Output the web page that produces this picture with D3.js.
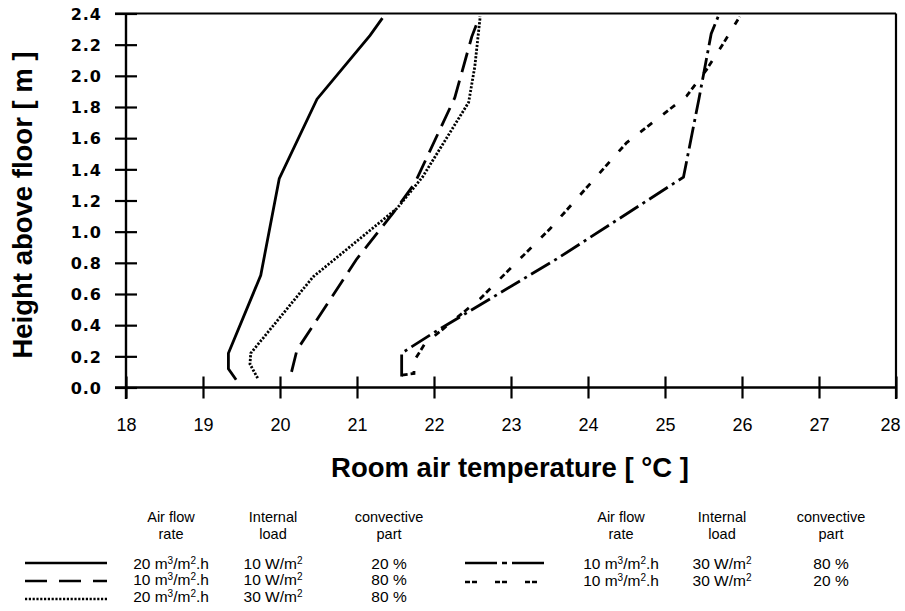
<!DOCTYPE html>
<html><head><meta charset="utf-8">
<script src="https://cdn.jsdelivr.net/npm/d3@7"></script>
<style>body{margin:0;background:#fff}svg{display:block}</style>
</head><body>
<svg id="c" width="905" height="611"></svg>
<script>
// ---------- data ----------
const xTicks = [18,19,20,21,22,23,24,25,26,27,28];
const yTicks = [0,0.2,0.4,0.6,0.8,1.0,1.2,1.4,1.6,1.8,2.0,2.2,2.4];

const s1T = [19.43,19.33,19.33,19.75,19.99,20.48,21.17,21.33];
const s1H = [0.05,0.12,0.22,0.72,1.34,1.85,2.26,2.37];

const s2T = [20.15,20.22,20.99,21.47,21.75,22.27,22.49,22.59];
const s2H = [0.10,0.24,0.82,1.12,1.31,1.86,2.25,2.38];

const s3T = [19.71,19.61,19.62,20.43,21.52,21.85,22.45,22.53,22.60];
const s3H = [0.06,0.15,0.22,0.71,1.15,1.35,1.83,2.06,2.38];

const s4T = [21.58,21.58,21.99,23.61,25.24,25.44,25.60,25.69];
const s4H = [0.07,0.22,0.35,0.83,1.35,1.85,2.27,2.38];

const s5T = [21.58,21.74,21.74,21.88,22.60,23.51,24.50,25.28,25.54,25.76,25.97];
const s5H = [0.08,0.09,0.17,0.28,0.57,1.02,1.57,1.87,2.04,2.21,2.38];

const airFlow = ["20","10","20","10","10"];
const intLoad = ["10","10","30","30","30"];
const convPart = ["20 %","80 %","80 %","80 %","20 %"];
const dashes = [null,"20,9","2.2,1.6","22,5,3,5","6,3,6,14"];
const legendDashes = [null,"22,12","2.2,1.6","32,5,5,5","5,2,5,18"];

const series = [[s1T,s1H],[s2T,s2H],[s3T,s3H],[s4T,s4H],[s5T,s5H]];

// ---------- chart ----------
const svg = d3.select("#c");
const x = d3.scaleLinear().domain([18,28]).range([126,896]);
const y = d3.scaleLinear().domain([0,2.4]).range([387.5,13.5]);

// frame: top and right borders
svg.append("line").attr("x1",115).attr("x2",x(28)).attr("y1",y(2.4)).attr("y2",y(2.4))
  .attr("stroke","#000").attr("stroke-width",2.2);
svg.append("line").attr("x1",x(28)).attr("x2",x(28)).attr("y1",y(2.4)).attr("y2",399)
  .attr("stroke","#000").attr("stroke-width",2.2);

// x axis
const gx = svg.append("g").attr("transform",`translate(0,${y(0)})`)
  .call(d3.axisBottom(x).tickValues(xTicks).tickFormat(d3.format("d")).tickSizeOuter(0));
gx.select(".domain").remove();
gx.append("line").attr("x1",115).attr("x2",x(28)).attr("stroke","#000").attr("stroke-width",2.4);
gx.selectAll(".tick line").attr("y1",-11).attr("y2",11).attr("stroke-width",2.2);
gx.selectAll(".tick text").attr("y",43).attr("dy",0)
  .attr("dx",d=>d===28?-6:0)
  .style("font-family","'Liberation Sans', Arial, sans-serif").style("font-size","18px").attr("fill","#000");

// y axis
const gy = svg.append("g").attr("transform",`translate(${x(18)},0)`)
  .call(d3.axisLeft(y).tickValues(yTicks).tickFormat(d3.format(".1f")).tickSizeOuter(0));
gy.select(".domain").remove();
gy.append("line").attr("y1",y(2.4)).attr("y2",399).attr("stroke","#000").attr("stroke-width",2.4);
gy.selectAll(".tick line").attr("x1",-11).attr("x2",11).attr("stroke-width",2.2);
gy.selectAll(".tick text").attr("x",-24).attr("dy","0.36em")
  .style("font-family","'DejaVu Sans', sans-serif").style("font-weight","bold")
  .style("font-size","16px").style("letter-spacing","1px").attr("fill","#000");

// axis titles
svg.append("text").attr("x",510).attr("y",477).attr("text-anchor","middle")
  .style("font-family","'Liberation Sans', Arial, sans-serif").style("font-weight","bold")
  .style("font-size","27.5px").text("Room air temperature [ °C ]");
svg.append("text").attr("transform","translate(32,205) rotate(-90)").attr("text-anchor","middle")
  .style("font-family","'Liberation Sans', Arial, sans-serif").style("font-weight","bold")
  .style("font-size","27.5px").text("Height above floor [ m ]");

// lines
const line = d3.line().x(d=>x(d[0])).y(d=>y(d[1]));
series.forEach((s,i)=>{
  const pts = s[0].map((t,j)=>[t,s[1][j]]);
  svg.append("path").datum(pts).attr("d",line).attr("fill","none")
    .attr("stroke","#000").attr("stroke-width",2.8)
    .attr("stroke-dasharray",dashes[i]);
});

// legend
const font = "'Liberation Sans', Arial, sans-serif";
const groups = [
  {idx:[0,1,2], lx:[25,107], cols:[171,273,389], rowY:[569,585,602], lineY:[563,581,599]},
  {idx:[3,4],   lx:[465,545], cols:[621,722,831], rowY:[569,586], lineY:[563,582]}
];
groups.forEach(g=>{
  [["Air flow","rate"],["Internal","load"],["convective","part"]].forEach((h,k)=>{
    svg.append("text").attr("x",g.cols[k]).attr("y",522).attr("text-anchor","middle")
      .style("font-family",font).style("font-size","14.5px").text(h[0]);
    svg.append("text").attr("x",g.cols[k]).attr("y",539).attr("text-anchor","middle")
      .style("font-family",font).style("font-size","14.5px").text(h[1]);
  });
  g.idx.forEach((si,r)=>{
    svg.append("line").attr("x1",g.lx[0]).attr("x2",g.lx[1])
      .attr("y1",g.lineY[r]).attr("y2",g.lineY[r])
      .attr("stroke","#000").attr("stroke-width",2.6).attr("stroke-dasharray",legendDashes[si]);
    const t1 = svg.append("text").attr("x",g.cols[0]).attr("y",g.rowY[r]).attr("text-anchor","middle")
      .style("font-family",font).style("font-size","15.5px");
    t1.append("tspan").text(airFlow[si]+" m");
    t1.append("tspan").attr("dy",-5).style("font-size","10px").text("3");
    t1.append("tspan").attr("dy",5).text("/m");
    t1.append("tspan").attr("dy",-5).style("font-size","10px").text("2");
    t1.append("tspan").attr("dy",5).text(".h");
    const t2 = svg.append("text").attr("x",g.cols[1]).attr("y",g.rowY[r]).attr("text-anchor","middle")
      .style("font-family",font).style("font-size","15.5px");
    t2.append("tspan").text(intLoad[si]+" W/m");
    t2.append("tspan").attr("dy",-5).style("font-size","10px").text("2");
    svg.append("text").attr("x",g.cols[2]).attr("y",g.rowY[r]).attr("text-anchor","middle")
      .style("font-family",font).style("font-size","15.5px").text(convPart[si]);
  });
});
</script>
</body></html>
